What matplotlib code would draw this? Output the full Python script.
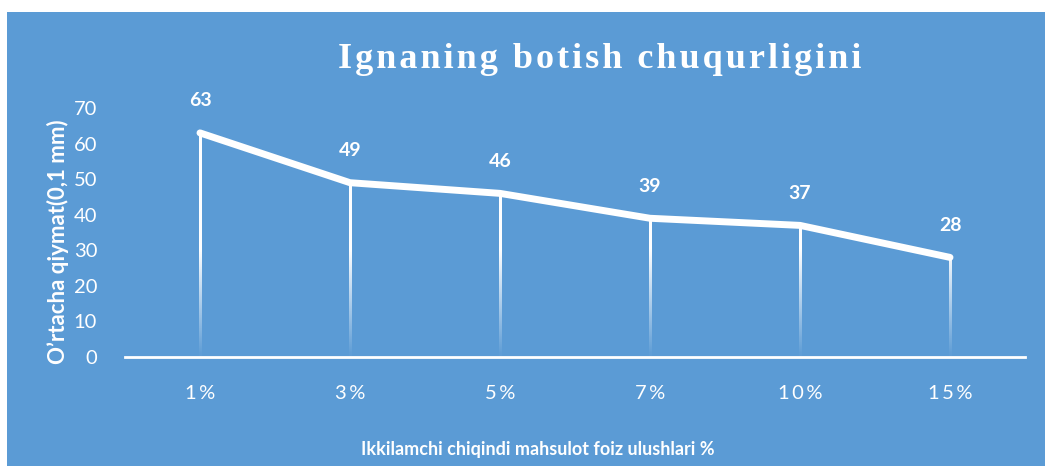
import numpy as np
import matplotlib
matplotlib.use('Agg')
import matplotlib.pyplot as plt
from matplotlib.patches import Rectangle

categories = ['1%', '3%', '5%', '7%', '10%', '15%']
values = [63, 49, 46, 39, 37, 28]
yticks = [0, 10, 20, 30, 40, 50, 60, 70]

title = 'Ignaning botish chuqurligini'
ylabel = 'O\u2019rtacha qiymat(0,1 mm)'
xlabel = 'Ikkilamchi chiqindi mahsulot foiz ulushlari %'

blue = '#5B9BD5'
W, H = 1045, 466

fig = plt.figure(figsize=(W / 100, H / 100), dpi=100)
fig.patch.set_facecolor('white')
fig.patches.append(Rectangle((7 / W, 0), 1, (H - 12) / H, transform=fig.transFigure,
                             facecolor=blue, edgecolor='none', zorder=-10))

ax = fig.add_axes([125 / W, 109 / H, 900 / W, 249 / H])
ax.set_facecolor('none')
x = np.arange(len(categories))

# drop lines fading toward the axis
for xi, v in zip(x, values):
    ys = np.linspace(0, v, 200)
    alpha = np.clip(ys / 30.0, 0.03, 1.0)
    grad = np.ones((len(ys), 1, 4))
    grad[:, 0, 3] = alpha
    ax.imshow(grad, extent=(xi - 0.007, xi + 0.007, 0, v), origin='lower',
              aspect='auto', interpolation='bilinear', zorder=2)

ax.plot(x, values, color='white', lw=5, solid_capstyle='round',
        solid_joinstyle='round', zorder=3)

for xi, v in zip(x, values):
    ax.annotate(str(v), (xi, v), xytext=(0, 23), textcoords='offset points',
                ha='center', va='center', color='white', fontsize=14,
                fontweight='bold', family='Lato')

ax.set_xlim(-0.5, len(categories) - 0.5)
ax.set_ylim(0, 70)

for s in ['top', 'right', 'left']:
    ax.spines[s].set_visible(False)
ax.spines['bottom'].set_color('white')
ax.spines['bottom'].set_linewidth(2)

ax.set_xticks(x)
ax.set_xticklabels(['\u2009'.join(c) for c in categories], family='Lato', fontsize=14.5)
ax.set_yticks(yticks)
ax.set_yticklabels([str(t) for t in yticks], family='Lato', fontsize=14.5)
ax.tick_params(axis='both', colors='white', length=0)
ax.tick_params(axis='x', pad=20)
ax.tick_params(axis='y', pad=20)

fig.text(58 / W, 1 - 242 / H, ylabel, rotation=90, ha='center', va='center',
         color='white', fontsize=16, fontweight='bold', family='Lato')
fig.text(538 / W, 1 - 450 / H, xlabel, ha='center', va='center',
         color='white', fontsize=13, fontweight='bold', family='Lato')
fig.text(600 / W, 1 - 60 / H, '\u200a'.join(title), ha='center', va='center',
         color='white', fontsize=26, fontweight='bold', family='Liberation Serif')

fig.savefig('out.png', dpi=100, facecolor=fig.get_facecolor())
